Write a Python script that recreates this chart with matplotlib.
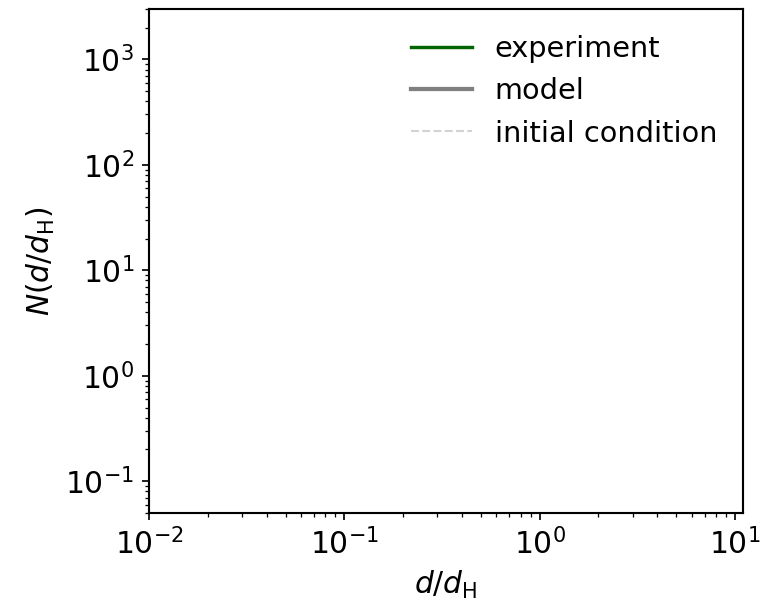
import numpy as np
import matplotlib.pyplot as plt

# size distributions (no samples loaded yet)
d_exp, n_exp = [], []
d_model, n_model = [], []
d_init, n_init = [], []

plt.rcParams['axes.linewidth'] = 1.0

fig = plt.figure(figsize=(5, 4), dpi=153)
ax = fig.add_axes([0.1948, 0.1618, 0.7764, 0.8235])

ax.plot(d_exp, n_exp, color='darkgreen', lw=1.6, label='experiment')
ax.plot(d_model, n_model, color='gray', lw=2, label='model')
ax.plot(d_init, n_init, color='lightgray', ls='--', lw=1, label='initial condition')

ax.set_xscale('log')
ax.set_yscale('log')
ax.set_xlim(1e-2, 11)
ax.set_ylim(0.05, 3000)

ax.set_xlabel(r'$d/d_\mathrm{H}$', fontsize=14)
ax.set_ylabel(r'$N(d/d_\mathrm{H})$', fontsize=14)
ax.tick_params(labelsize=14)

ax.legend(loc='upper right', frameon=False, fontsize=13.5, handlelength=2.1)

fig.savefig('out.png', dpi=153)
